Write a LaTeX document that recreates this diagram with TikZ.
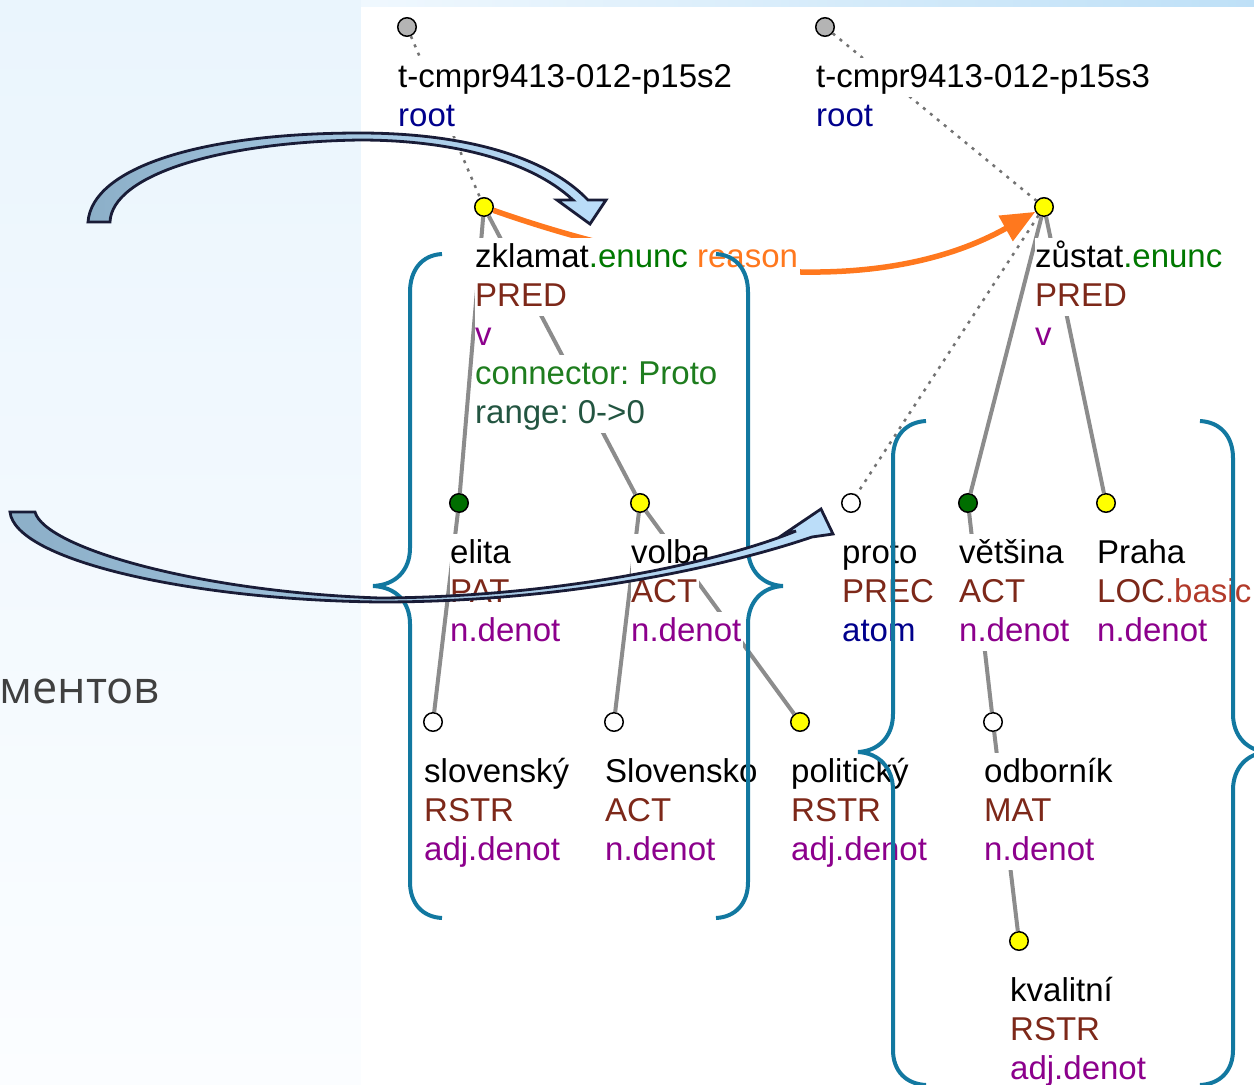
\documentclass[tikz,border=0pt]{standalone}
\usepackage{fontspec}
\setmainfont{Liberation Sans}
\newfontfamily\rusfont{Open Sans}
\usetikzlibrary{arrows.meta}

\definecolor{cFun}{RGB}{125,40,25}
\definecolor{cBasic}{RGB}{178,58,42}
\definecolor{cPurple}{RGB}{140,0,140}
\definecolor{cEnunc}{RGB}{0,120,0}
\definecolor{cConn}{RGB}{30,125,30}
\definecolor{cRange}{RGB}{35,85,65}
\definecolor{cNavy}{RGB}{0,0,140}
\definecolor{cReason}{RGB}{255,120,30}
\definecolor{cEdge}{RGB}{140,140,140}
\definecolor{cDot}{RGB}{115,115,115}
\definecolor{cBrace}{RGB}{18,120,160}
\definecolor{cArrowLine}{RGB}{25,28,55}
\definecolor{cArrowL}{RGB}{140,175,200}
\definecolor{cArrowR}{RGB}{188,222,250}
\definecolor{cYellow}{RGB}{255,255,0}
\definecolor{cGreen}{RGB}{0,110,0}
\definecolor{cRootNode}{RGB}{180,180,180}
\definecolor{cRus}{RGB}{64,64,64}

\setlength\fboxsep{0pt}
\frenchspacing
% one label row on its own white strip, 39pt tall
\newcommand\Lr[1]{\hbox{\colorbox{white}{\vrule height 29pt depth 10pt width 0pt\relax #1\kern2pt}}}
% stack of label rows, baseline = first row
\newcommand\Lbl[1]{\vtop{\baselineskip=39pt\lineskiplimit=-100pt\lineskip=0pt #1}}
\newcommand\fn[1]{\textcolor{cFun}{#1}}
\newcommand\pu[1]{\textcolor{cPurple}{#1}}

\tikzset{
  tnode/.style={circle, draw=black, line width=1.5pt, minimum size=18.5pt, inner sep=0pt},
  yel/.style={tnode, fill=cYellow},
  grn/.style={tnode, fill=cGreen},
  wht/.style={tnode, fill=white},
  gry/.style={tnode, fill=cRootNode},
  lab/.style={anchor=base west, inner sep=0pt, font=\fontsize{33}{39}\selectfont},
  edge/.style={draw=cEdge, line width=4pt},
  dotedge/.style={draw=cDot, line width=2.5pt, dash pattern=on 3pt off 6pt},
  brace/.style={draw=cBrace, line width=4pt},
  blockarrow/.style={draw=cArrowLine, line width=2.8pt, line join=miter, left color=cArrowL, right color=cArrowR},
  orarrow/.style={draw=cReason, line width=5.5pt, -{Triangle[length=34pt,width=28pt]}}
}

\begin{document}
\begin{tikzpicture}[x=1pt,y=-1pt]
\clip (0,0) rectangle (1254,1085);

% slide background and white panel
\shade[top color={rgb,255:red,234;green,245;blue,253}, bottom color={rgb,255:red,251;green,253;blue,255}] (0,0) rectangle (1254,1085);
\shade[left color={rgb,255:red,240;green,248;blue,254}, right color={rgb,255:red,190;green,224;blue,247}] (361,0) rectangle (1254,7);
\fill[white] (361,7) rectangle (1254,1085);

% tree nodes
\node[gry] (r1) at (407,27) {};
\node[gry] (r2) at (825,27) {};
\node[yel] (zk) at (484,207) {};
\node[yel] (zu) at (1044,207) {};
\node[grn] (el) at (459,503) {};
\node[yel] (vo) at (640,503) {};
\node[wht] (pr) at (851,503) {};
\node[grn] (ve) at (968,503) {};
\node[yel] (ph) at (1106,503) {};
\node[wht] (sl) at (433,722) {};
\node[wht] (so) at (614,722) {};
\node[yel] (po) at (800,722) {};
\node[wht] (od) at (993,722) {};
\node[yel] (kv) at (1019,941) {};

% tree edges
\draw[dotedge] (r1) -- (zk);
\draw[dotedge] (r2) -- (zu);
\draw[dotedge] (zu) -- (pr);
\draw[edge] (zk) -- (el);
\draw[edge] (zk) -- (vo);
\draw[edge] (el) -- (sl);
\draw[edge] (vo) -- (so);
\draw[edge] (vo) -- (po);
\draw[edge] (zu) -- (ve);
\draw[edge] (zu) -- (ph);
\draw[edge] (ve) -- (od);
\draw[edge] (od) -- (kv);

% coreference arrow
\draw[orarrow] (zk) .. controls (640,262) and (860,310) .. (zu);

% node labels
\node[lab] (tr1) at (398,87) {\Lbl{\Lr{t-cmpr9413-012-p15s2}\Lr{\textcolor{cNavy}{root}}}};
\node[lab] (tr2) at (816,87) {\Lbl{\Lr{t-cmpr9413-012-p15s3}\Lr{\textcolor{cNavy}{root}}}};
\node[lab] (tzk) at (475,267) {\Lbl{\Lr{zklamat\textcolor{cEnunc}{.enunc} \textcolor{cReason}{reason}}\Lr{\fn{PRED}}\Lr{\pu{v}}\Lr{\textcolor{cConn}{connector: Proto}}\Lr{\textcolor{cRange}{range: 0->0}}}};
\node[lab] (tzu) at (1035,267) {\Lbl{\Lr{zůstat\textcolor{cEnunc}{.enunc}}\Lr{\fn{PRED}}\Lr{\pu{v}}}};
\node[lab] (tel) at (450,563) {\Lbl{\Lr{elita}\Lr{\fn{PAT}}\Lr{\pu{n.denot}}}};
\node[lab] (tvo) at (631,563) {\Lbl{\Lr{volba}\Lr{\fn{ACT}}\Lr{\pu{n.denot}}}};
\node[lab] (tpr) at (842,563) {\Lbl{\Lr{proto}\Lr{\fn{PREC}}\Lr{\textcolor{cNavy}{atom}}}};
\node[lab] (tve) at (959,563) {\Lbl{\Lr{většina}\Lr{\fn{ACT}}\Lr{\pu{n.denot}}}};
\node[lab] (tph) at (1097,563) {\Lbl{\Lr{Praha}\Lr{\fn{LOC}\textcolor{cBasic}{.basic}}\Lr{\pu{n.denot}}}};
\node[lab] (tsl) at (424,782) {\Lbl{\Lr{slovenský}\Lr{\fn{RSTR}}\Lr{\pu{adj.denot}}}};
\node[lab] (tso) at (605,782) {\Lbl{\Lr{Slovensko}\Lr{\fn{ACT}}\Lr{\pu{n.denot}}}};
\node[lab] (tpo) at (791,782) {\Lbl{\Lr{politický}\Lr{\fn{RSTR}}\Lr{\pu{adj.denot}}}};
\node[lab] (tod) at (984,782) {\Lbl{\Lr{odborník}\Lr{\fn{MAT}}\Lr{\pu{n.denot}}}};
\node[lab] (tkv) at (1010,1001) {\Lbl{\Lr{kvalitní}\Lr{\fn{RSTR}}\Lr{\pu{adj.denot}}}};

% curly braces around the two subtrees
\draw[brace] (442,254) .. controls (422,255) and (410,270) .. (410,292) -- (410,548)
  .. controls (410,570) and (396,585) .. (373,586) .. controls (396,587) and (410,602) .. (410,624)
  -- (410,882) .. controls (410,903) and (422,917) .. (442,918);
\draw[brace] (716,254) .. controls (736,255) and (748,270) .. (748,292) -- (748,548)
  .. controls (748,570) and (762,585) .. (783,586) .. controls (762,587) and (748,602) .. (748,624)
  -- (748,882) .. controls (748,903) and (736,917) .. (716,918);
\draw[brace] (926,421) .. controls (906,422) and (893,436) .. (893,458) -- (893,714)
  .. controls (893,736) and (879,751) .. (858,752) .. controls (879,753) and (893,768) .. (893,790)
  -- (893,1050) .. controls (893,1071) and (906,1084) .. (926,1085);
\draw[brace] (1200,421) .. controls (1220,422) and (1233,436) .. (1233,458) -- (1233,714)
  .. controls (1233,736) and (1247,751) .. (1268,752) .. controls (1247,753) and (1233,768) .. (1233,790)
  -- (1233,1050) .. controls (1233,1071) and (1220,1084) .. (1200,1085);

% curved block arrows
\path[blockarrow] (88,222) -- (110,222)
  .. controls (112,175) and (220,142) .. (360,140)
  .. controls (450,140) and (530,160) .. (573,200)
  -- (557,200) -- (590,224) -- (606,200) -- (588,200)
  .. controls (545,155) and (460,133) .. (360,133)
  .. controls (200,133) and (92,168) .. (88,222) -- cycle;
\path[blockarrow] (10,512) -- (35,512)
  .. controls (45,548) and (200,592) .. (380,598)
  .. controls (560,597) and (720,562) .. (796,531)
  -- (784,534) -- (821,509) -- (833,534) -- (812,537)
  .. controls (730,565) and (570,602) .. (380,602)
  .. controls (190,600) and (15,560) .. (10,512) -- cycle;

% fragment of slide text
\node[anchor=base west, inner sep=0pt, font=\rusfont\fontsize{45}{54}\selectfont, text=cRus] (rus) at (-1,703) {ментов};
\end{tikzpicture}
\end{document}
